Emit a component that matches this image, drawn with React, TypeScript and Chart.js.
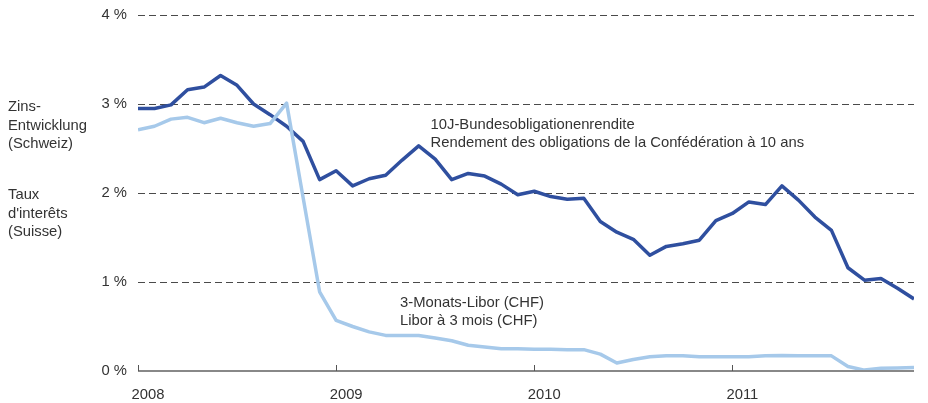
import React, { useEffect, useRef } from "react";
import { Chart, registerables } from "chart.js";

Chart.register(...registerables);

const months: number[] = Array.from({ length: 48 }, (_, i) => i);
const yearTicks = [0, 12, 24, 36];
const yearLabels = ["2008", "2009", "2010", "2011"];

const bondYield = [
  2.95, 2.95, 2.99, 3.16, 3.19, 3.32, 3.21, 3.0, 2.88, 2.75, 2.58, 2.15,
  2.25, 2.08, 2.16, 2.2, 2.37, 2.53, 2.38, 2.15, 2.22, 2.19, 2.1, 1.98,
  2.02, 1.96, 1.93, 1.94, 1.68, 1.56, 1.48, 1.3, 1.4, 1.43, 1.47, 1.69,
  1.77, 1.9, 1.87, 2.08, 1.92, 1.73, 1.58, 1.16, 1.02, 1.04, 0.93, 0.81,
];

const libor3m = [
  2.71, 2.75, 2.83, 2.85, 2.79, 2.84, 2.79, 2.75, 2.78, 3.01, 1.95, 0.89,
  0.57, 0.5, 0.44, 0.4, 0.4, 0.4, 0.37, 0.34, 0.29, 0.27, 0.25, 0.25,
  0.245, 0.245, 0.24, 0.24, 0.19, 0.09, 0.13, 0.16, 0.17, 0.17, 0.16, 0.16,
  0.16, 0.16, 0.17, 0.175, 0.17, 0.17, 0.17, 0.05, 0.01, 0.03, 0.035, 0.04,
];

const yTicks = [0, 1, 2, 3, 4];
const titleDe = ["Zins-", "Entwicklung", "(Schweiz)"];
const titleFr = ["Taux", "d'interêts", "(Suisse)"];
const bondLabel = ["10J-Bundesobligationenrendite", "Rendement des obligations de la Confédération à 10 ans"];
const liborLabel = ["3-Monats-Libor (CHF)", "Libor à 3 mois (CHF)"];

const FONT = "'Liberation Sans', Arial, sans-serif";
const TEXT = "#333333";
const FS = 14.8;

export default function App() {
  const ref = useRef<HTMLCanvasElement | null>(null);

  useEffect(() => {
    if (!ref.current) return;
    const overlay = {
      id: "overlay",
      afterDraw(chart: any) {
        const ctx = chart.ctx;
        const x = chart.scales.x;
        const y = chart.scales.y;
        ctx.save();
        // baseline
        ctx.strokeStyle = "#888888";
        ctx.lineWidth = 2;
        ctx.beginPath();
        ctx.moveTo(x.left, y.getPixelForValue(0));
        ctx.lineTo(x.right, y.getPixelForValue(0));
        ctx.stroke();
        // inward year ticks
        ctx.lineWidth = 1;
        ctx.strokeStyle = "#555555";
        for (const t of yearTicks) {
          const px = Math.round(x.getPixelForValue(t)) + 0.5;
          ctx.beginPath();
          ctx.moveTo(px, y.getPixelForValue(0));
          ctx.lineTo(px, y.getPixelForValue(0) - 6);
          ctx.stroke();
        }
        // texts
        ctx.fillStyle = TEXT;
        ctx.font = `${FS}px ${FONT}`;
        ctx.textAlign = "left";
        ctx.textBaseline = "middle";
        titleDe.forEach((s, i) => ctx.fillText(s, 8, 107 + i * 18.5));
        titleFr.forEach((s, i) => ctx.fillText(s, 8, 195 + i * 18.5));
        const bx = x.getPixelForValue(17.6) + 2;
        const by = y.getPixelForValue(2.8) + 3;
        bondLabel.forEach((s, i) => ctx.fillText(s, bx, by + i * 18.5));
        const lx = x.getPixelForValue(15.75) + 2;
        const ly = y.getPixelForValue(0.79) + 2;
        liborLabel.forEach((s, i) => ctx.fillText(s, lx, ly + i * 18.5));
        ctx.restore();
      },
    };

    const chart = new Chart(ref.current, {
      type: "line",
      data: {
        labels: months,
        datasets: [
          {
            label: "3-Monats-Libor",
            data: months.map((m, i) => ({ x: m, y: libor3m[i] })),
            borderColor: "#a6c9ea",
            borderWidth: 3.5,
            pointRadius: 0,
            tension: 0,
            borderJoinStyle: "round",
          },
          {
            label: "10J-Bundesobligationenrendite",
            data: months.map((m, i) => ({ x: m, y: bondYield[i] })),
            borderColor: "#2f4f9f",
            borderWidth: 3.5,
            pointRadius: 0,
            tension: 0,
            borderJoinStyle: "round",
          },
        ],
      },
      options: {
        animation: false,
        responsive: true,
        maintainAspectRatio: false,
        layout: { padding: { top: 15, right: 14, left: 0, bottom: 0 } },
        plugins: {
          legend: { display: false },
          tooltip: { enabled: false },
        },
        scales: {
          x: {
            type: "linear",
            min: 0,
            max: 47,
            border: { display: false },
            grid: { display: false, drawTicks: false },
            afterBuildTicks: (scale: any) => {
              scale.ticks = yearTicks.map((v) => ({ value: v }));
            },
            afterFit: (scale: any) => {
              scale.height = 32;
              scale.paddingLeft = 0;
              scale.paddingRight = 0;
            },
            ticks: {
              autoSkip: false,
              maxRotation: 0,
              padding: 15,
              labelOffset: 10,
              color: TEXT,
              font: { family: FONT, size: FS },
              callback: (v: any) => {
                const idx = yearTicks.indexOf(Number(v));
                return idx >= 0 ? yearLabels[idx] : "";
              },
            },
          },
          y: {
            min: 0,
            max: 4,
            border: { display: false, dash: [7, 4] },
            afterBuildTicks: (scale: any) => {
              scale.ticks = yTicks.map((v) => ({ value: v }));
            },
            afterFit: (scale: any) => {
              scale.width = 138;
              scale.paddingTop = 0;
              scale.paddingBottom = 0;
            },
            grid: {
              drawTicks: false,
              color: (c: any) => (c.tick && c.tick.value === 0 ? "rgba(0,0,0,0)" : "#4a4a4a"),
              lineWidth: 1,
            },
            ticks: {
              padding: 11,
              color: TEXT,
              font: { family: FONT, size: FS },
              callback: (v: any) => `${v} %`,
            },
          },
        },
      },
      plugins: [overlay],
    });
    return () => chart.destroy();
  }, []);

  return (
    <div style={{ position: "fixed", left: 0, top: 0, width: 928, height: 403, background: "#fff" }}>
      <canvas ref={ref} width={928} height={403} />
    </div>
  );
}
